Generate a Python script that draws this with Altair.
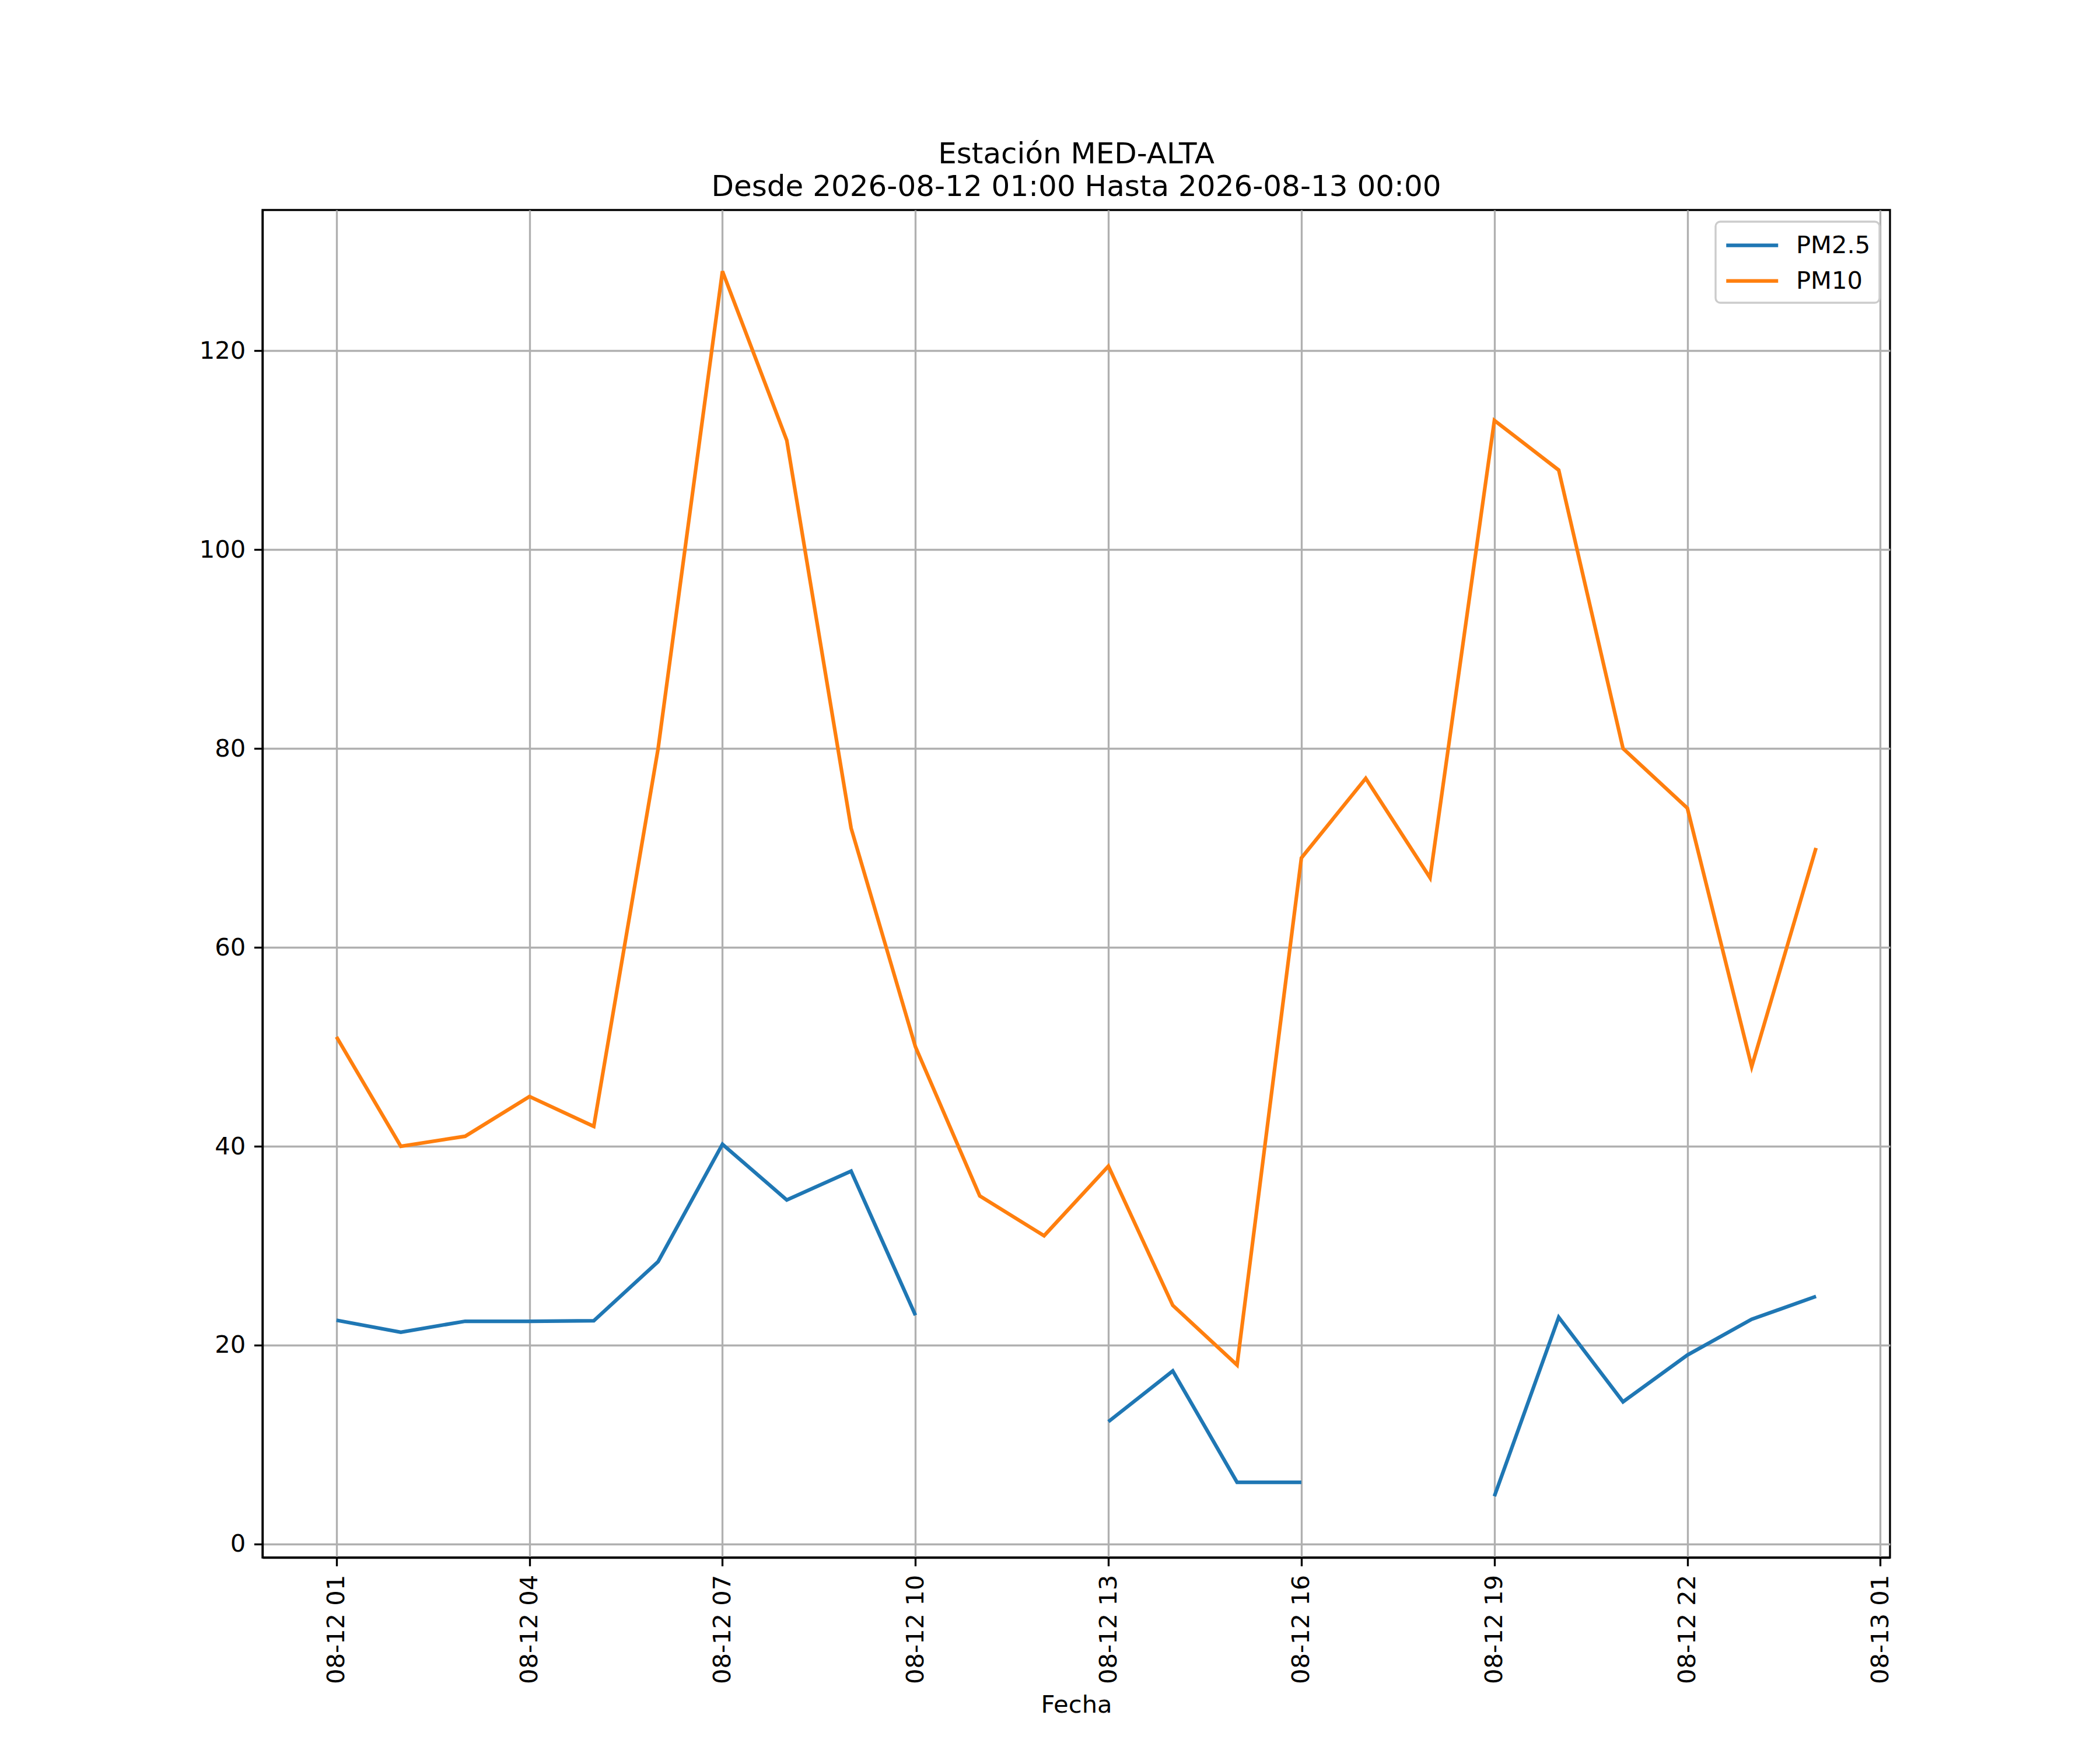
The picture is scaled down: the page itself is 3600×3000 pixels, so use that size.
import altair as alt
import pandas as pd

# ---- data ----
times = [
    "2026-08-12T01:00:00Z", "2026-08-12T02:00:00Z", "2026-08-12T03:00:00Z",
    "2026-08-12T04:00:00Z", "2026-08-12T05:00:00Z", "2026-08-12T06:00:00Z",
    "2026-08-12T07:00:00Z", "2026-08-12T08:00:00Z", "2026-08-12T09:00:00Z",
    "2026-08-12T10:00:00Z", "2026-08-12T11:00:00Z", "2026-08-12T12:00:00Z",
    "2026-08-12T13:00:00Z", "2026-08-12T14:00:00Z", "2026-08-12T15:00:00Z",
    "2026-08-12T16:00:00Z", "2026-08-12T17:00:00Z", "2026-08-12T18:00:00Z",
    "2026-08-12T19:00:00Z", "2026-08-12T20:00:00Z", "2026-08-12T21:00:00Z",
    "2026-08-12T22:00:00Z", "2026-08-12T23:00:00Z", "2026-08-13T00:00:00Z",
]
pm25 = [22.5, 21.3, 22.4, 22.4, 22.45, 28.4, 40.2, 34.6, 37.5, 23.0, None, None,
        12.3, 17.4, 6.2, 6.2, None, None, 4.8, 22.8, 14.3, 19.0, 22.6, 24.9]
pm10 = [51, 40, 41, 45, 42, 80, 128, 111, 72, 50, 35, 31,
        38, 24, 18, 69, 77, 67, 113, 108, 80, 74, 48, 70]
series_names = ["PM2.5", "PM10"]
series_colors = ["#1f77b4", "#ff7f0e"]
tick_times = [
    "2026-08-12T01:00:00Z", "2026-08-12T04:00:00Z", "2026-08-12T07:00:00Z",
    "2026-08-12T10:00:00Z", "2026-08-12T13:00:00Z", "2026-08-12T16:00:00Z",
    "2026-08-12T19:00:00Z", "2026-08-12T22:00:00Z", "2026-08-13T01:00:00Z",
]
y_ticks = [0, 20, 40, 60, 80, 100, 120]
title_lines = ["Estación MED-ALTA", "Desde 2026-08-12 01:00 Hasta 2026-08-13 00:00"]

# ---- build long table, breaking lines at missing values ----
rows = []
for name, vals in zip(series_names, [pm25, pm10]):
    seg = 0
    prev_none = False
    for t, v in zip(times, vals):
        if v is None:
            prev_none = True
            continue
        if prev_none:
            seg += 1
            prev_none = False
        rows.append({"time": t, "value": v, "series": name, "seg": f"{name}-{seg}"})
df = pd.DataFrame(rows)


def dt(ts):
    return alt.DateTime(year=ts.year, month=ts.month, date=ts.day,
                        hours=ts.hour, minutes=ts.minute, seconds=ts.second, utc=True)


tt = pd.to_datetime(pd.Series(times))
span = tt.max() - tt.min()
x_dom = [dt(tt.min() - span * 0.05), dt(tt.max() + span * 0.05)]
allv = [v for v in pm25 + pm10 if v is not None]
ylo, yhi = min(allv), max(allv)
yr = yhi - ylo
y_dom = [ylo - 0.05 * yr, yhi + 0.05 * yr]
tick_vals = [dt(pd.Timestamp(s)) for s in tick_times]

PX = 300 / 72.0
FS = 10 * PX
LW = 0.8 * PX

chart = alt.Chart(df).mark_line(strokeWidth=1.5 * PX, clip=True).encode(
    x=alt.X("time:T",
            scale=alt.Scale(type="utc", domain=x_dom),
            axis=alt.Axis(values=tick_vals, format="%m-%d %H",
                          labelAngle=270, labelLimit=1000,
                          title="Fecha", titlePadding=32,
                          grid=True)),
    y=alt.Y("value:Q",
            scale=alt.Scale(domain=y_dom, nice=False, zero=False),
            axis=alt.Axis(values=y_ticks, title=None, grid=True)),
    color=alt.Color("series:N",
                    scale=alt.Scale(domain=series_names, range=series_colors),
                    legend=alt.Legend(orient="none", legendX=2491, legendY=20,
                                      title=None, symbolType="M-1,0H3",
                                      symbolSize=1980, symbolStrokeWidth=1.5 * PX,
                                      labelFontSize=FS, labelFont="DejaVu Sans",
                                      labelColor="black", labelOffset=72,
                                      padding=15, rowPadding=13,
                                      fillColor="white", strokeColor="#cccccc",
                                      cornerRadius=8)),
    detail="seg:N",
    order=alt.Order("time:T"),
).properties(
    width=2790,
    height=2310,
    background="white",
    autosize=alt.AutoSizeParams(type="none"),
    padding={"left": 442, "top": 352, "right": 352, "bottom": 322},
    title=alt.TitleParams(text=title_lines, anchor="middle", fontSize=12 * PX,
                          font="DejaVu Sans", fontWeight="normal", color="black",
                          offset=14, lineHeight=56),
).configure_axis(
    domainColor="black", domainWidth=LW,
    tickColor="black", tickWidth=LW, tickSize=3.5 * PX,
    labelFont="DejaVu Sans", labelFontSize=FS, labelColor="black",
    labelPadding=3.5 * PX,
    gridColor="#b0b0b0", gridWidth=LW,
    titleFont="DejaVu Sans", titleFontSize=FS, titleFontWeight="normal",
    titleColor="black",
).configure_view(
    stroke="black", strokeWidth=LW,
).configure_legend(
    strokeWidth=LW,
)

chart.save("out.html", embed_options={"renderer": "svg", "actions": False})
